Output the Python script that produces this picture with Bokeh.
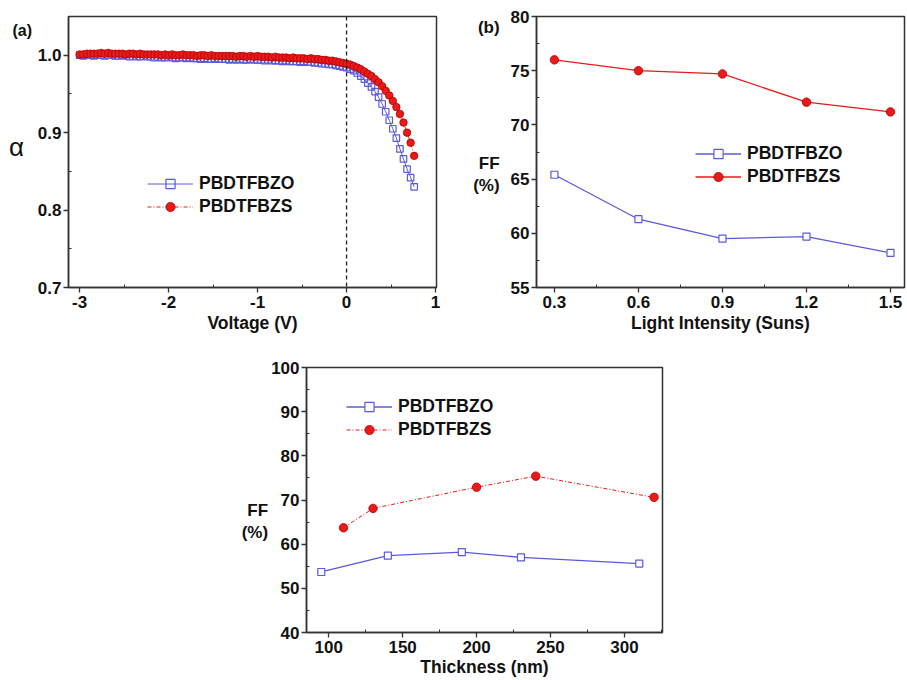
from bokeh.plotting import figure
from bokeh.models import (FixedTicker, Legend, LegendItem, Range1d, Span, Spacer,
                          CustomJSTickFormatter)
from bokeh.core.properties import value
from bokeh.layouts import column, row
from bokeh.embed import file_html
from bokeh.resources import INLINE

# ---------------- data ----------------
voltage = [-3.00, -2.96, -2.92, -2.88, -2.84, -2.80, -2.76, -2.72, -2.68, -2.64,
           -2.60, -2.56, -2.52, -2.48, -2.44, -2.40, -2.36, -2.32, -2.28, -2.24,
           -2.20, -2.16, -2.12, -2.08, -2.04, -2.00, -1.96, -1.92, -1.88, -1.84,
           -1.80, -1.76, -1.72, -1.68, -1.64, -1.60, -1.56, -1.52, -1.48, -1.44,
           -1.40, -1.36, -1.32, -1.28, -1.24, -1.20, -1.16, -1.12, -1.08, -1.04,
           -1.00, -0.96, -0.92, -0.88, -0.84, -0.80, -0.76, -0.72, -0.68, -0.64,
           -0.60, -0.56, -0.52, -0.48, -0.44, -0.40, -0.36, -0.32, -0.28, -0.24,
           -0.20, -0.16, -0.12, -0.08, -0.04, 0.00, 0.04, 0.08, 0.12, 0.16,
           0.20, 0.24, 0.28, 0.32, 0.36, 0.40, 0.44, 0.48, 0.52, 0.56,
           0.60, 0.64, 0.68, 0.72, 0.76]

alpha_zo = [1.000, 0.999, 1.000, 1.000, 0.999, 1.000, 1.000, 0.999, 1.000, 1.000,
            0.999, 0.999, 1.000, 0.999, 0.998, 0.999, 0.998, 0.998, 0.999, 0.998,
            0.998, 0.997, 0.998, 0.997, 0.997, 0.998, 0.997, 0.996, 0.997, 0.997,
            0.996, 0.997, 0.996, 0.996, 0.995, 0.996, 0.995, 0.995, 0.996, 0.995,
            0.995, 0.995, 0.994, 0.995, 0.994, 0.995, 0.994, 0.994, 0.995, 0.994,
            0.994, 0.994, 0.993, 0.994, 0.993, 0.993, 0.993, 0.992, 0.993, 0.992,
            0.992, 0.992, 0.991, 0.992, 0.991, 0.991, 0.990, 0.990, 0.989, 0.989,
            0.988, 0.988, 0.987, 0.986, 0.985, 0.984, 0.982, 0.980, 0.977, 0.973,
            0.969, 0.964, 0.959, 0.953, 0.946, 0.937, 0.927, 0.916, 0.905, 0.893,
            0.879, 0.866, 0.853, 0.842, 0.830]

alpha_zs = [1.001, 1.001, 1.002, 1.002, 1.002, 1.002, 1.003, 1.002, 1.003, 1.002,
            1.002, 1.002, 1.002, 1.001, 1.002, 1.002, 1.001, 1.002, 1.001, 1.001,
            1.001, 1.001, 1.001, 1.000, 1.001, 1.000, 1.001, 1.000, 1.000, 1.001,
            1.000, 1.000, 1.000, 0.999, 1.000, 1.000, 0.999, 1.000, 0.999, 0.999,
            0.999, 0.999, 0.999, 0.999, 0.998, 0.999, 0.999, 0.998, 0.999, 0.998,
            0.999, 0.998, 0.998, 0.998, 0.997, 0.998, 0.997, 0.997, 0.997, 0.996,
            0.997, 0.996, 0.996, 0.996, 0.995, 0.996, 0.995, 0.995, 0.994, 0.994,
            0.993, 0.993, 0.992, 0.991, 0.990, 0.989, 0.988, 0.986, 0.984, 0.982,
            0.979, 0.976, 0.973, 0.969, 0.965, 0.960, 0.954, 0.948, 0.941, 0.933,
            0.924, 0.913, 0.900, 0.887, 0.870]

intensity = [0.3, 0.6, 0.9, 1.2, 1.5]
ff_int_zo = [65.4, 61.3, 59.5, 59.7, 58.2]
ff_int_zs = [76.0, 75.0, 74.7, 72.1, 71.2]

thick_zo = [95, 140, 190, 230, 310]
ff_thick_zo = [53.7, 57.4, 58.2, 57.0, 55.6]
thick_zs = [110, 130, 200, 240, 320]
ff_thick_zs = [63.7, 68.1, 72.9, 75.4, 70.6]

names = ["PBDTFBZO", "PBDTFBZS"]

# ---------------- style ----------------
FONT = "Liberation Sans"
BLUE = "#5a5ae0"
RED = "#e81a1a"
RED_EDGE = "#b80000"
AX = "#333333"
TXT = "#111111"

TOP1, FH1, BOT1 = 16, 271, 53   # shared borders / frame height of the top row


def fmt(nd):
    return CustomJSTickFormatter(code="return tick.toFixed(%d);" % nd)


def make_fig(xr, yr, fw, fh, left, right, top, bottom):
    p = figure(x_range=Range1d(*xr), y_range=Range1d(*yr),
               frame_width=fw, frame_height=fh,
               min_border_left=left, min_border_right=right,
               min_border_top=top, min_border_bottom=bottom,
               output_backend="svg", toolbar_location=None)
    p.xgrid.visible = False
    p.ygrid.visible = False
    p.outline_line_color = AX
    p.outline_line_width = 1.5
    p.background_fill_color = "white"
    p.border_fill_color = "white"
    for ax in (p.xaxis[0], p.yaxis[0]):
        ax.axis_line_color = AX
        ax.axis_line_width = 1.5
        ax.major_tick_line_color = AX
        ax.minor_tick_line_color = AX
        ax.major_tick_line_width = 1.3
        ax.minor_tick_line_width = 1.0
        ax.major_tick_out = 5
        ax.major_tick_in = 0
        ax.minor_tick_out = 0
        ax.minor_tick_in = 3
        ax.major_label_text_font = FONT
        ax.major_label_text_font_style = "bold"
        ax.major_label_text_font_size = "17px"
        ax.major_label_text_color = TXT
        ax.axis_label_text_font = FONT
        ax.axis_label_text_font_style = "bold"
        ax.axis_label_text_font_size = "17.5px"
        ax.axis_label_text_color = TXT
    p.xaxis[0].major_label_standoff = 3
    p.yaxis[0].major_label_standoff = 2
    p.xaxis[0].axis_label_standoff = 2
    return p


def set_ylabel(p, text, size="17px", line_height=1.2, standoff=5):
    ax = p.yaxis[0]
    ax.axis_label = text
    ax.axis_label_text_font_size = size
    ax.axis_label_text_line_height = line_height
    ax.axis_label_standoff = standoff
    ax.axis_label_orientation = "horizontal"


def add_legend(p, items, loc):
    leg = Legend(items=items, location=loc, glyph_width=46, glyph_height=23,
                 label_height=23, label_standoff=6, padding=0, margin=0, spacing=0,
                 border_line_alpha=0, background_fill_alpha=0,
                 label_text_font=FONT, label_text_font_style="bold",
                 label_text_font_size="17.5px", label_text_color=TXT)
    p.add_layout(leg)


# ---------------- (a) : side strip holding "(a)" and the alpha label ----------------
side_a = figure(width=34, height=TOP1 + FH1 + BOT1,
                x_range=Range1d(0, 34), y_range=Range1d(TOP1 + FH1, TOP1),
                min_border_left=0, min_border_right=0,
                min_border_top=TOP1, min_border_bottom=BOT1,
                x_axis_location=None, y_axis_location=None,
                output_backend="svg", toolbar_location=None)
side_a.outline_line_color = None
side_a.xgrid.visible = False
side_a.ygrid.visible = False
side_a.text(x=[12], y=[30], text=["(a)"], text_font=value(FONT), text_font_style="bold",
            text_font_size="16px", text_color=TXT, text_align="left", text_baseline="middle")
side_a.text(x=[16], y=[146], text=["α"], text_font=value(FONT), text_font_style="normal",
            text_font_size="26px", text_color=TXT, text_align="center", text_baseline="middle")

pa = make_fig((-3.125, 1.011), (0.7, 1.05), 368, FH1, 34, 24, TOP1, BOT1)
pa.xaxis[0].ticker = FixedTicker(ticks=[-3, -2, -1, 0, 1], minor_ticks=[-2.5, -1.5, -0.5, 0.5])
pa.yaxis[0].ticker = FixedTicker(ticks=[0.7, 0.8, 0.9, 1.0], minor_ticks=[0.75, 0.85, 0.95])
pa.xaxis[0].formatter = fmt(0)
pa.yaxis[0].formatter = fmt(1)
pa.xaxis[0].axis_label = "Voltage (V)"
pa.add_layout(Span(location=0, dimension="height", line_color="#222222",
                   line_width=1.3, line_dash="4 3"))
la_o = pa.line(voltage, alpha_zo, line_color=BLUE, line_width=1)
sa_o = pa.scatter(voltage, alpha_zo, marker="square", size=6.5, fill_color="white",
                  fill_alpha=0, line_color=BLUE, line_width=1.2)
la_s = pa.line(voltage, alpha_zs, line_color=RED, line_width=1, line_dash="4 2 1 2")
sa_s = pa.scatter(voltage, alpha_zs, marker="circle", size=7.5, fill_color=RED,
                  line_color=RED_EDGE, line_width=0.8)
add_legend(pa, [LegendItem(label=names[0], renderers=[la_o, sa_o]),
                LegendItem(label=names[1], renderers=[la_s, sa_s])], (79, 69))

# ---------------- (b) ----------------
pb = make_fig((0.236, 1.55), (55, 80), 368, FH1, 76, 2, TOP1, BOT1)
pb.xaxis[0].ticker = FixedTicker(ticks=[0.3, 0.6, 0.9, 1.2, 1.5], minor_ticks=[0.45, 0.75, 1.05, 1.35])
pb.yaxis[0].ticker = FixedTicker(ticks=[55, 60, 65, 70, 75, 80], minor_ticks=[57.5, 62.5, 67.5, 72.5, 77.5])
pb.xaxis[0].formatter = fmt(1)
pb.yaxis[0].formatter = fmt(0)
pb.xaxis[0].axis_label = "Light Intensity (Suns)"
set_ylabel(pb, "(b)\n\n\n\n\n\nFF\n(%)\n\n\n\n", line_height=1.19, standoff=8)
lb_o = pb.line(intensity, ff_int_zo, line_color=BLUE, line_width=1.3)
sb_o = pb.scatter(intensity, ff_int_zo, marker="square", size=7, fill_color="white",
                  line_color=BLUE, line_width=1.2)
lb_s = pb.line(intensity, ff_int_zs, line_color=RED, line_width=1.3)
sb_s = pb.scatter(intensity, ff_int_zs, marker="circle", size=8.5, fill_color=RED,
                  line_color=RED_EDGE, line_width=0.8)
add_legend(pb, [LegendItem(label=names[0], renderers=[lb_o, sb_o]),
                LegendItem(label=names[1], renderers=[lb_s, sb_s])], (159, 99))

# ---------------- (c) ----------------
pc = make_fig((85, 325.7), (40, 100), 356, 265, 64, 15, 27, 48)
pc.xaxis[0].ticker = FixedTicker(ticks=[100, 150, 200, 250, 300], minor_ticks=[125, 175, 225, 275, 325])
pc.yaxis[0].ticker = FixedTicker(ticks=[40, 50, 60, 70, 80, 90, 100], minor_ticks=[45, 55, 65, 75, 85, 95])
pc.xaxis[0].formatter = fmt(0)
pc.yaxis[0].formatter = fmt(0)
pc.xaxis[0].axis_label = "Thickness (nm)"
pc.xaxis[0].axis_label_standoff = 1
pc.xaxis[0].major_label_standoff = 3
set_ylabel(pc, "\n\nFF\n(%)", line_height=1.15, standoff=0)
lc_o = pc.line(thick_zo, ff_thick_zo, line_color=BLUE, line_width=1.3)
sc_o = pc.scatter(thick_zo, ff_thick_zo, marker="square", size=7, fill_color="white",
                  line_color=BLUE, line_width=1.2)
lc_s = pc.line(thick_zs, ff_thick_zs, line_color=RED, line_width=1, line_dash="4 2 1 2")
sc_s = pc.scatter(thick_zs, ff_thick_zs, marker="circle", size=8.5, fill_color=RED,
                  line_color=RED_EDGE, line_width=0.8)
add_legend(pc, [LegendItem(label=names[0], renderers=[lc_o, sc_o]),
                LegendItem(label=names[1], renderers=[lc_s, sc_s])], (40, 191))

layout = column(row(side_a, pa, pb), row(Spacer(width=238, height=10), pc))

open("out.html", "w").write(file_html(layout, INLINE))
